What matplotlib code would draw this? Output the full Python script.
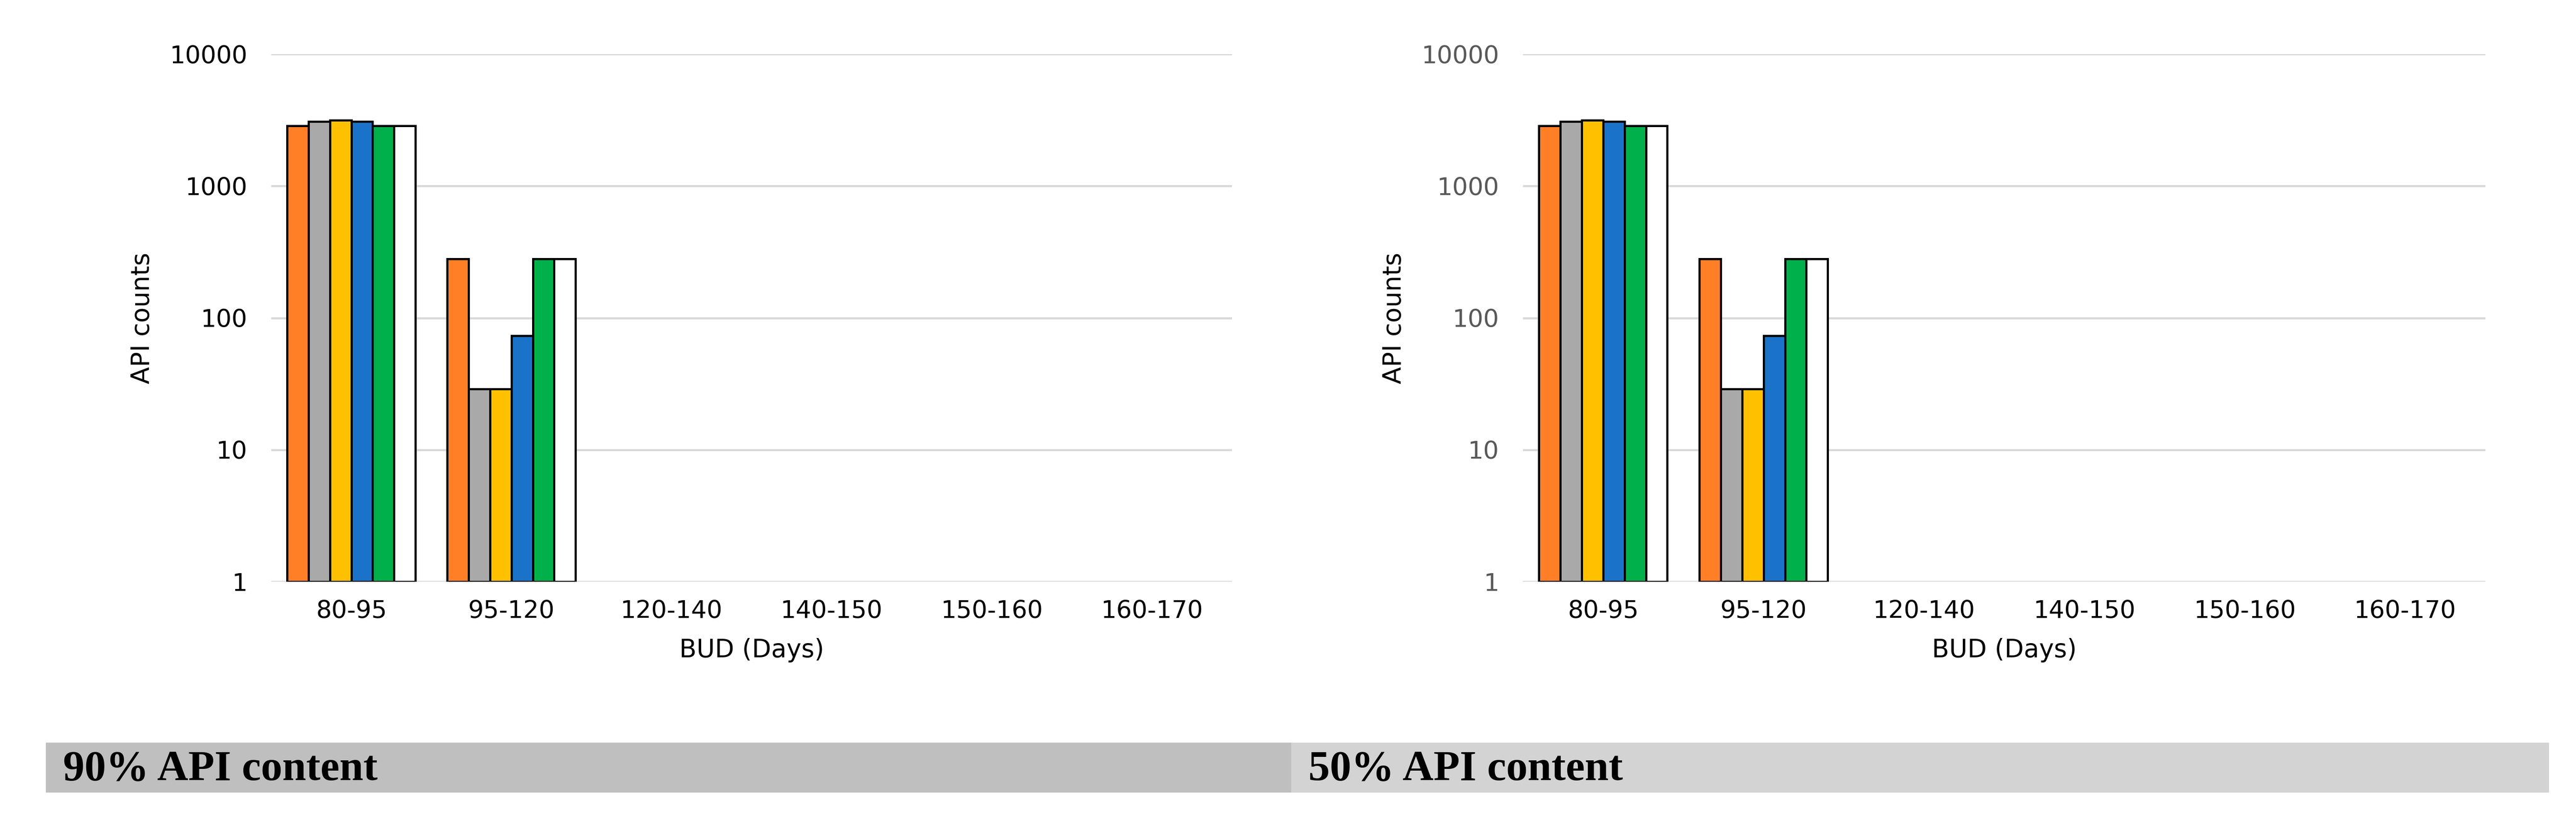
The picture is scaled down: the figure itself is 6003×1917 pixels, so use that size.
import matplotlib
matplotlib.use("Agg")
import matplotlib.pyplot as plt
import numpy as np

categories = ["80-95", "95-120", "120-140", "140-150", "150-160", "160-170"]
s1 = [2850, 280, 0, 0, 0, 0]
s2 = [3090, 28, 0, 0, 0, 0]
s3 = [3150, 28, 0, 0, 0, 0]
s4 = [3090, 72, 0, 0, 0, 0]
s5 = [2850, 280, 0, 0, 0, 0]
s6 = [2850, 280, 0, 0, 0, 0]
series = [s1, s2, s3, s4, s5, s6]
colors = ["#FF7F27", "#A9A9A9", "#FFC000", "#1A73C8", "#00B04A", "#FFFFFF"]
panel_titles = ["90% API content", "50% API content"]

W, H = 6003, 1917
fig = plt.figure(figsize=(W/100, H/100), dpi=100)

axes_px = [(632, 2871, "black"), (3549, 5792, "#595959")]
x = np.arange(len(categories))
bw = 0.8 / 6
for (x0, x1, tcol) in axes_px:
    ax = fig.add_axes([x0/W, 1-1355/H, (x1-x0)/W, (1355-126)/H])
    ax.set_yscale("log")
    ax.set_ylim(1, 10000)
    ax.set_xlim(-0.5, len(categories)-0.5)
    for i, (vals, c) in enumerate(zip(series, colors)):
        v = np.array(vals, dtype=float)
        mask = v > 0
        ax.bar(x[mask] + (i-2.5)*bw, v[mask], width=bw, bottom=1, color=c,
               edgecolor="black", linewidth=3.6, zorder=3)
    ax.set_yticks([1, 10, 100, 1000, 10000])
    ax.set_yticklabels(["1", "10", "100", "1000", "10000"])
    ax.minorticks_off()
    ax.set_xticks(x)
    ax.set_xticklabels(categories)
    ax.tick_params(axis="y", length=0, labelsize=41, labelcolor=tcol, pad=40)
    ax.tick_params(axis="x", length=0, labelsize=41, pad=30)
    ax.yaxis.grid(True, color="#D9D9D9", linewidth=3.5, zorder=0)
    for s in ax.spines.values():
        s.set_visible(False)
    ax.set_ylabel("API counts", fontsize=42, labelpad=25)
    ax.set_xlabel("BUD (Days)", fontsize=42, labelpad=25)

for (bx0, bx1, col, title) in [(107, 3009, "#BFBFBF", panel_titles[0]),
                               (3009, 5939, "#D3D3D3", panel_titles[1])]:
    fig.patches.append(plt.Rectangle((bx0/W, 1-1845/H), (bx1-bx0)/W, 115/H,
                                     transform=fig.transFigure, color=col, zorder=0))
    fig.text((bx0+40)/W, 1-1792/H, title, fontsize=72, fontweight="bold",
             family="Liberation Serif", va="center", ha="left")

fig.savefig("out.png", dpi=100, facecolor="white")
